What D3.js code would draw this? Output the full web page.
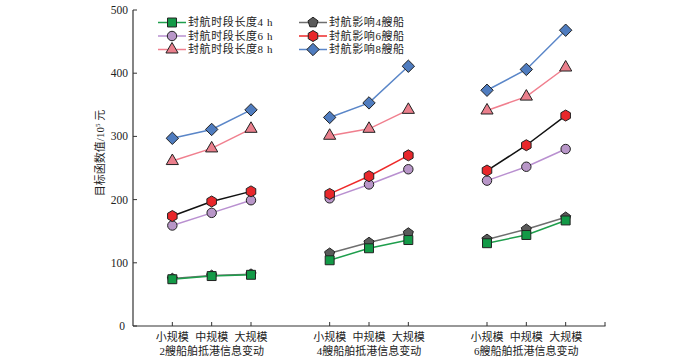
<!DOCTYPE html>
<html><head><meta charset="utf-8">
<script src="https://cdn.jsdelivr.net/npm/d3@7"></script>
<style>
body{margin:0;background:#fff;}
text{font-family:"Liberation Serif","Noto Sans CJK SC",serif;fill:#222;}
</style></head>
<body><svg id="c" width="700" height="358"></svg>
<script>
const scales = ["小规模","中规模","大规模"];
const groups = ["2艘船舶抵港信息变动","4艘船舶抵港信息变动","6艘船舶抵港信息变动"];
const yTicks = [0,100,200,300,400,500];
const seriesNames = ["封航影响4艘船","封航时段长度4 h","封航时段长度6 h","封航影响6艘船","封航时段长度8 h","封航影响8艘船"];
// values per group (3 scales each)
const ship4 = [[75,80,82],[115,132,147],[137,153,172]];
const len4  = [[74,79,81],[104,123,136],[131,144,167]];
const len6  = [[159,179,199],[202,224,248],[230,252,280]];
const ship6 = [[174,197,213],[209,237,270],[246,286,333]];
const len8  = [[261,281,312],[301,312,342],[341,363,409]];
const ship8 = [[297,311,342],[330,353,411],[373,406,468]];

const svg = d3.select("#c");
const x = d3.scaleLinear().domain([0,12]).range([133,605]);
const y = d3.scaleLinear().domain([0,500]).range([326,10]);
const pos = (g,i)=> 1 + g*4 + i;

function poly(n, r, rot){
  const p = d3.path();
  for(let k=0;k<n;k++){
    const a = rot + k*2*Math.PI/n;
    const px = r*Math.sin(a), py = -r*Math.cos(a);
    if(k===0) p.moveTo(px,py); else p.lineTo(px,py);
  }
  p.closePath(); return p.toString();
}
const shapes = {
  square: d3.symbol(d3.symbolSquare, 80)(),
  circle: d3.symbol(d3.symbolCircle, 70)(),
  triangle: d3.symbol(d3.symbolTriangle, 64)(),
  diamond: poly(4, 6.2, 0),
  pentagon: poly(5, 5.3, 0),
  hexagon: poly(6, 5.5, 0)
};

const styles = [
  {data:ship4, shape:"pentagon", fill:"#5a5a5a", line:["#6e6e6e","#6e6e6e","#6e6e6e"], lc:"#6e6e6e"},
  {data:len4,  shape:"square",   fill:"#139a47", line:["#1e9e4c","#1e9e4c","#1e9e4c"], lc:"#1e9e4c"},
  {data:len6,  shape:"circle",   fill:"#b896c8", line:["#b990d0","#b990d0","#b990d0"], lc:"#b990d0"},
  {data:ship6, shape:"hexagon",  fill:"#e8272b", line:["#111","#ee2a2a","#111"], lc:"#ee2a2a"},
  {data:len8,  shape:"triangle", fill:"#ea7f8c", line:["#f07f8e","#f07f8e","#f07f8e"], lc:"#f07f8e"},
  {data:ship8, shape:"diamond",  fill:"#4f7cbf", line:["#5a86c8","#5a86c8","#5a86c8"], lc:"#5a86c8"}
];

const gA = svg.append("g");
gA.append("line").attr("x1",133).attr("x2",133).attr("y1",y(500)).attr("y2",y(0)).attr("stroke","#333").attr("stroke-width",1.2);
gA.append("line").attr("x1",133).attr("x2",605.5).attr("y1",y(0)).attr("y2",y(0)).attr("stroke","#333").attr("stroke-width",1.2);
yTicks.forEach(t=>{
  gA.append("line").attr("x1",133).attr("x2",137).attr("y1",y(t)).attr("y2",y(t)).attr("stroke","#333");
  gA.append("text").attr("x",t===0?125:128).attr("y",y(t)).attr("dy","0.35em").attr("text-anchor","end").attr("font-size",11.5).text(t);
});
const xt = [];
groups.forEach((g,gi)=>scales.forEach((s,i)=>xt.push(pos(gi,i))));
xt.push(12);
xt.forEach(p=>gA.append("line").attr("x1",x(p)).attr("x2",x(p)).attr("y1",y(0)).attr("y2",y(0)-4).attr("stroke","#333"));
groups.forEach((g,gi)=>{
  scales.forEach((s,i)=>{
    gA.append("text").attr("x",x(pos(gi,i))).attr("y",341).attr("text-anchor","middle").attr("font-size",11).text(s);
  });
  gA.append("text").attr("x",x(pos(gi,1))).attr("y",355).attr("text-anchor","middle").attr("font-size",11).text(g);
});
gA.append("text").attr("transform","translate(104,153) rotate(-90)").attr("text-anchor","middle").attr("font-size",11)
  .html('目标函数值/10<tspan dy="-4" font-size="7">5</tspan><tspan dy="4"> 元</tspan>');

const line = d3.line().x(d=>x(d.p)).y(d=>y(d.v));
styles.forEach(st=>{
  const g = svg.append("g");
  st.data.forEach((vals,gi)=>{
    const pts = vals.map((v,i)=>({p:pos(gi,i),v}));
    g.append("path").attr("d",line(pts)).attr("fill","none").attr("stroke",st.line[gi]).attr("stroke-width",1.5);
  });
  st.data.forEach((vals,gi)=>{
    vals.forEach((v,i)=>{
      g.append("path").attr("d",shapes[st.shape]).attr("transform",`translate(${x(pos(gi,i))},${y(v)})`)
        .attr("fill",st.fill).attr("stroke","#222").attr("stroke-width",1);
    });
  });
});

const legendOrder = [
  {name:seriesNames[1], st:styles[1], col:0, row:0},
  {name:seriesNames[2], st:styles[2], col:0, row:1},
  {name:seriesNames[4], st:styles[4], col:0, row:2},
  {name:seriesNames[0], st:styles[0], col:1, row:0},
  {name:seriesNames[3], st:styles[3], col:1, row:1},
  {name:seriesNames[5], st:styles[5], col:1, row:2}
];
const lg = svg.append("g");
legendOrder.forEach(d=>{
  const x0 = d.col===0?158:299, cy = 22.5 + d.row*13.5;
  const mx = x0+14;
  lg.append("line").attr("x1",x0).attr("x2",x0+28).attr("y1",cy).attr("y2",cy).attr("stroke",d.st.lc).attr("stroke-width",1.5);
  lg.append("path").attr("d",shapes[d.st.shape]).attr("transform",`translate(${mx},${cy})`).attr("fill",d.st.fill).attr("stroke","#222");
  lg.append("text").attr("x",x0+30).attr("y",cy).attr("dy","0.36em").attr("font-size",11).attr("letter-spacing",0.6).text(d.name);
});
</script></body></html>
